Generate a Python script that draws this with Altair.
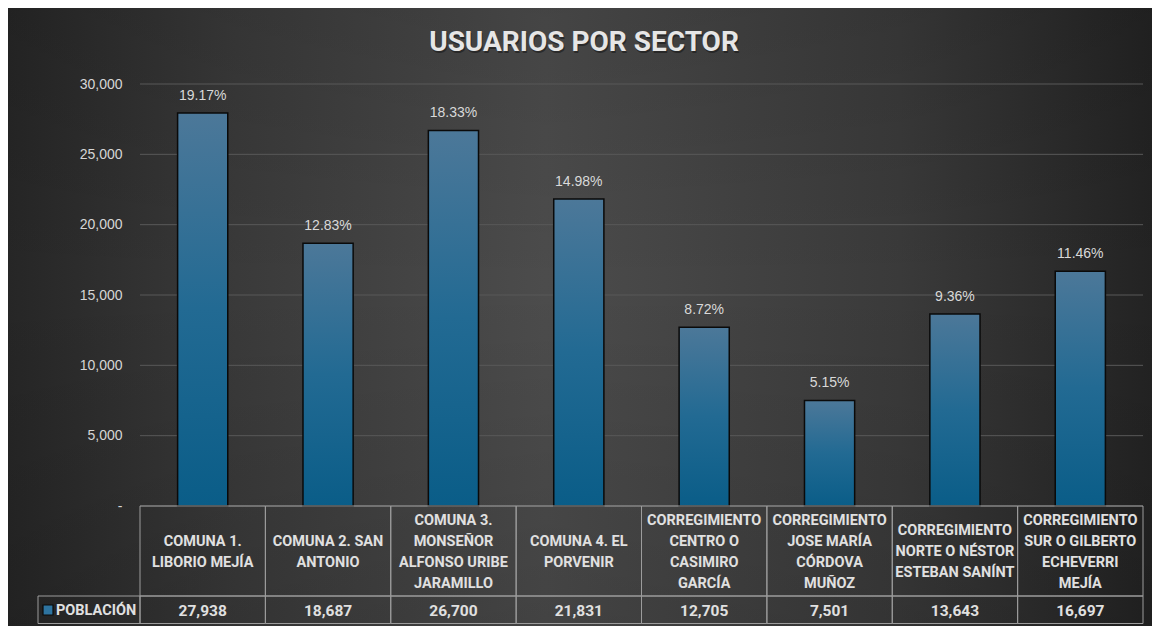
import altair as alt
import pandas as pd

# ---------------- data ----------------
TITLE = "USUARIOS POR SECTOR"
SERIES = "POBLACIÓN"
category_lines = [
    ["COMUNA 1.", "LIBORIO MEJÍA"],
    ["COMUNA 2. SAN", "ANTONIO"],
    ["COMUNA 3.", "MONSEÑOR", "ALFONSO URIBE", "JARAMILLO"],
    ["COMUNA 4. EL", "PORVENIR"],
    ["CORREGIMIENTO", "CENTRO O", "CASIMIRO", "GARCÍA"],
    ["CORREGIMIENTO", "JOSE MARÍA", "CÓRDOVA", "MUÑOZ"],
    ["CORREGIMIENTO", "NORTE O NÉSTOR", "ESTEBAN SANÍNT"],
    ["CORREGIMIENTO", "SUR O GILBERTO", "ECHEVERRI", "MEJÍA"],
]
poblacion = [27938, 18687, 26700, 21831, 12705, 7501, 13643, 16697]
porcentajes = [19.17, 12.83, 18.33, 14.98, 8.72, 5.15, 9.36, 11.46]
y_ticks = [0, 5000, 10000, 15000, 20000, 25000, 30000]

categories = [" ".join(l) for l in category_lines]
df = pd.DataFrame({
    "sector": categories,
    "header": ["\n".join(l) for l in category_lines],
    "nlines": [len(l) for l in category_lines],
    "poblacion": poblacion,
    "pct": porcentajes,
})
ticks_df = pd.DataFrame({"tick": y_ticks})
one = pd.DataFrame({"t": [TITLE], "s": [SERIES]})

# ---------------- layout / style ----------------
W, H = 1003, 422
PAD = {"left": 132, "top": 76, "right": 9, "bottom": 120}
HEAD_H = 90
ROW_B = 117.5
LINE_H = 21
LABEL_FONT = "Liberation Sans, Arial, sans-serif"
TABLE_FONT = "Roboto, Liberation Sans, sans-serif"
TEXT_C = "#e0e0e0"
BORDER_C = "#9c9c9c"

x_enc = alt.X("sector:N", sort=categories,
              scale=alt.Scale(paddingInner=0, paddingOuter=0), axis=None)
y_scale = alt.Scale(domain=[0, 30000], nice=False, zero=True)
y_axis = alt.Axis(values=y_ticks, title=None, grid=False, domain=False, ticks=False,
                  labelExpr="datum.value == 0 ? '-' : format(datum.value, ',')",
                  labelPadding=18, labelFontSize=14, labelColor="#d6d6d6",
                  labelFont=LABEL_FONT, zindex=1)

bar_grad = alt.Gradient(
    gradient="linear", x1=0, y1=0, x2=0, y2=1,
    stops=[alt.GradientStop(color="#4c7899", offset=0),
           alt.GradientStop(color="#226a93", offset=0.5),
           alt.GradientStop(color="#0a5d88", offset=1)])

bg_grad = alt.Gradient(
    gradient="linear", x1=0, y1=0, x2=1, y2=0,
    stops=[alt.GradientStop(color="#262626", offset=0),
           alt.GradientStop(color="#3a3a3a", offset=0.2),
           alt.GradientStop(color="#4c4c4c", offset=0.47),
           alt.GradientStop(color="#3a3a3a", offset=0.78),
           alt.GradientStop(color="#232323", offset=1)])

vshade = alt.Gradient(
    gradient="linear", x1=0, y1=0, x2=0, y2=1,
    stops=[alt.GradientStop(color="rgba(0,0,0,0.10)", offset=0),
           alt.GradientStop(color="rgba(0,0,0,0)", offset=0.45),
           alt.GradientStop(color="rgba(0,0,0,0.12)", offset=1)])

background = alt.Chart(one).mark_rect(fill=bg_grad).encode(
    x=alt.value(-PAD["left"]), x2=alt.value(W + PAD["right"]),
    y=alt.value(-PAD["top"]), y2=alt.value(H + PAD["bottom"]))
shade = alt.Chart(one).mark_rect(fill=vshade).encode(
    x=alt.value(-PAD["left"]), x2=alt.value(W + PAD["right"]),
    y=alt.value(-PAD["top"]), y2=alt.value(H + PAD["bottom"]))

title_shadow = alt.Chart(one).mark_text(
    font="Roboto", fontWeight="bold", fontSize=28, color="#151515", opacity=0.55,
    align="center", baseline="alphabetic", dx=1, dy=2).encode(
    text="t:N", x=alt.value(444), y=alt.value(-33))
title = alt.Chart(one).mark_text(
    font="Roboto", fontWeight="bold", fontSize=28, color="#e6e6e6",
    align="center", baseline="alphabetic").encode(
    text="t:N", x=alt.value(444), y=alt.value(-33))

grid = alt.Chart(ticks_df).mark_rule(color="#585858", strokeWidth=1).encode(
    y=alt.Y("tick:Q", scale=y_scale, axis=y_axis),
    x=alt.value(0), x2=alt.value(W))

bars = alt.Chart(df).mark_bar(
    color=bar_grad, stroke="#0a0a0a", strokeWidth=1.5,
    width=alt.RelativeBandSize(0.4)).encode(
    x=x_enc, y=alt.Y("poblacion:Q", scale=y_scale, axis=y_axis))

pct_labels = alt.Chart(df).transform_calculate(
    lbl="format(datum.pct, '.2f') + '%'").mark_text(
    font=LABEL_FONT, fontSize=14, color="#d9d9d9", baseline="alphabetic",
    dy=-13).encode(x=x_enc, y=alt.Y("poblacion:Q", scale=y_scale), text="lbl:N")

head_cells = alt.Chart(df).mark_rect(
    fill="transparent", stroke=BORDER_C, strokeWidth=1).encode(
    x=x_enc, y=alt.value(0 + H), y2=alt.value(H + HEAD_H))

# header text: one layer per line count so each block is vertically centred
head_texts = []
for n in sorted(set(df["nlines"])):
    head_texts.append(
        alt.Chart(df).transform_filter(f"datum.nlines == {n}").mark_text(
            font=TABLE_FONT, fontWeight="bold", fontSize=14.5, color=TEXT_C,
            baseline="middle", lineBreak="\n", lineHeight=LINE_H,
            dy=-(n - 1) * LINE_H / 2).encode(
            x=x_enc, y=alt.value(H + HEAD_H / 2 + 1), text="header:N"))

val_cells = alt.Chart(df).mark_rect(
    fill="transparent", stroke=BORDER_C, strokeWidth=1).encode(
    x=x_enc, y=alt.value(H + HEAD_H), y2=alt.value(H + ROW_B))
val_text = alt.Chart(df).mark_text(
    font=TABLE_FONT, fontWeight="bold", fontSize=15.5, color=TEXT_C,
    baseline="middle").encode(
    x=x_enc, y=alt.value(H + (HEAD_H + ROW_B) / 2 + 1),
    text=alt.Text("poblacion:Q", format=","))

legend_cell = alt.Chart(one).mark_rect(
    fill="transparent", stroke=BORDER_C, strokeWidth=1).encode(
    x=alt.value(-102), x2=alt.value(0),
    y=alt.value(H + HEAD_H), y2=alt.value(H + ROW_B))
legend_key = alt.Chart(one).mark_rect(
    color="#2e74a0", stroke="#0a0a0a", strokeWidth=1.2).encode(
    x=alt.value(-97), x2=alt.value(-87),
    y=alt.value(H + 99), y2=alt.value(H + 109))
legend_text = alt.Chart(one).mark_text(
    font=TABLE_FONT, fontWeight="bold", fontSize=14.5, color=TEXT_C,
    align="left", baseline="middle").encode(
    x=alt.value(-84), y=alt.value(H + (HEAD_H + ROW_B) / 2 + 1), text="s:N")

chart = alt.layer(
    background, shade, title_shadow, title, grid, bars, pct_labels,
    head_cells, *head_texts, val_cells, val_text,
    legend_cell, legend_key, legend_text,
).properties(
    width=W, height=H, padding=PAD,
    autosize=alt.AutoSizeParams(type="none"),
    background="#2e2e2e",
).configure_view(stroke=None)

chart.save("out.html", embed_options={"renderer": "svg", "actions": False})
